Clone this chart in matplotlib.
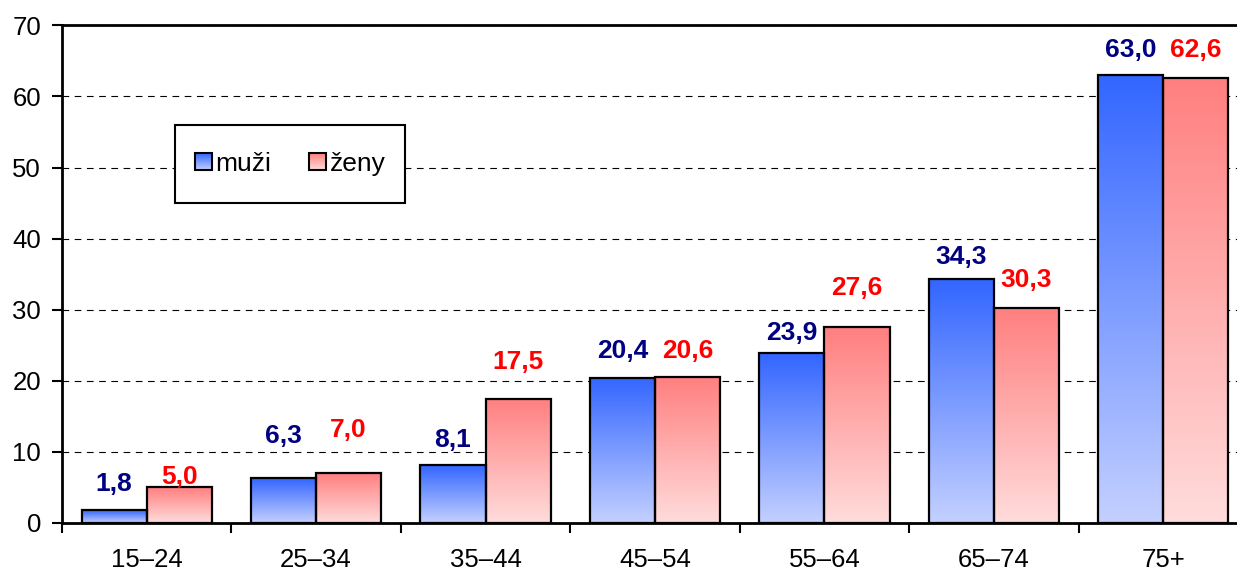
import numpy as np
import matplotlib
matplotlib.use("Agg")
import matplotlib.pyplot as plt
from matplotlib.colors import LinearSegmentedColormap
from matplotlib.patches import Rectangle

plt.rcParams['font.family'] = ['Liberation Sans', 'DejaVu Sans']

categories = ['15–24', '25–34', '35–44', '45–54', '55–64', '65–74', '75+']
muzi = [1.8, 6.3, 8.1, 20.4, 23.9, 34.3, 63.0]
zeny = [5.0, 7.0, 17.5, 20.6, 27.6, 30.3, 62.6]
series_names = ['muži', 'ženy']

# gap (px) between bar top and label baseline, labels were placed by hand
gap_muzi = [19, 35, 18, 20, 13, 15, 18]
gap_zeny = [3, 36, 30, 19, 32, 21, 21]

blue_cmap = LinearSegmentedColormap.from_list('b', ['#C4D0FF', '#3366FF'])
red_cmap = LinearSegmentedColormap.from_list('r', ['#FFDCDC', '#FF7F7F'])
label_colors = ['#000080', '#FF0000']

grad = np.linspace(0, 1, 256).reshape(-1, 1)
FS = 18.5
FS_LAB = 19

fig = plt.figure(figsize=(12.37, 5.72), dpi=100, facecolor='white')
# the plot area runs a little past the right edge of the picture
ax = fig.add_axes([0.050, 0.0857, 0.959, 0.870])

x = np.arange(len(categories))
w = 0.384

def gradBar(xc, h, cmap, col, gap):
    x0, x1 = xc - w / 2, xc + w / 2
    ax.imshow(grad, extent=(x0, x1, 0, h), origin='lower', cmap=cmap,
              aspect='auto', zorder=2, interpolation='bilinear')
    ax.add_patch(Rectangle((x0, 0), w, h, fill=False, edgecolor='black',
                           linewidth=1.6, zorder=3))
    ax.annotate(f'{h:.1f}'.replace('.', ','), xy=(xc, h), xytext=(0, gap * 0.72),
                textcoords='offset points', ha='center', va='baseline',
                fontsize=FS_LAB, fontweight='bold', color=col, zorder=4)

for i in range(len(categories)):
    gradBar(x[i] - w / 2, muzi[i], blue_cmap, label_colors[0], gap_muzi[i])
    gradBar(x[i] + w / 2, zeny[i], red_cmap, label_colors[1], gap_zeny[i])

ax.set_xlim(-0.5, len(categories) - 0.5)
ax.set_ylim(0, 70)
ax.set_yticks(range(0, 71, 10))
ax.yaxis.grid(True, linestyle=(0, (6, 5)), color='black', linewidth=0.8)
ax.set_axisbelow(True)

ax.set_xticks(x)
ax.set_xticklabels(categories)
ax.set_xticks(np.arange(-0.5, len(categories)), minor=True)
ax.tick_params(axis='x', which='major', length=0, pad=18, labelsize=FS)
ax.tick_params(axis='x', which='minor', length=7, width=1.5)
ax.tick_params(axis='y', length=7, width=1.5, labelsize=FS, pad=8)

ax.spines['right'].set_visible(False)
for s in ['left', 'bottom', 'top']:
    ax.spines[s].set_linewidth(2)

# legend
ax.add_patch(Rectangle((0.0952, 0.643), 0.194, 0.156, transform=ax.transAxes,
                       facecolor='white', edgecolor='black', linewidth=1.5, zorder=5))
for (sx, tx), cmap, name in zip([(0.1121, 0.129), (0.2082, 0.2259)],
                                [blue_cmap, red_cmap], series_names):
    ax.imshow(grad, extent=(sx, sx + 0.0143, 0.709, 0.743), origin='lower',
              cmap=cmap, aspect='auto', transform=ax.transAxes, zorder=6)
    ax.add_patch(Rectangle((sx, 0.709), 0.0143, 0.034, transform=ax.transAxes,
                           fill=False, edgecolor='black', linewidth=1.5, zorder=7))
    ax.text(tx, 0.722, name, transform=ax.transAxes, fontsize=FS_LAB,
            va='center', ha='left', zorder=7)

ax.set_xlim(-0.5, len(categories) - 0.5)
ax.set_ylim(0, 70)

fig.savefig('out.png', dpi=100)
